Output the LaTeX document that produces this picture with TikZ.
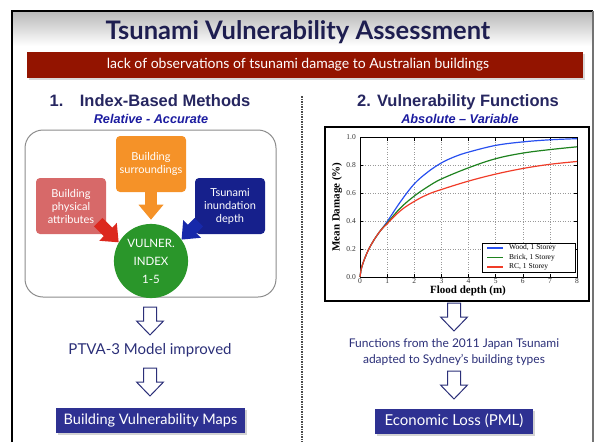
\documentclass[tikz,border=0pt]{standalone}
\usepackage{fontspec}
\setmainfont{Lato}
\newfontfamily\arialfont{Liberation Sans}
\newfontfamily\timesfont{Liberation Serif}
\usetikzlibrary{arrows.meta,calc,shadows}

\definecolor{slidenavy}{RGB}{30,30,80}
\definecolor{bannerred}{RGB}{147,20,0}
\definecolor{headnavy}{RGB}{38,38,96}
\definecolor{subblue}{RGB}{28,28,160}
\definecolor{boxnavy}{RGB}{46,49,146}
\definecolor{textnavy}{RGB}{43,47,120}
\definecolor{surrorange}{RGB}{245,146,40}
\definecolor{attrpink}{RGB}{215,105,105}
\definecolor{attrred}{RGB}{220,40,30}
\definecolor{depthblue}{RGB}{22,32,140}
\definecolor{arrowblue}{RGB}{22,40,170}
\definecolor{indexgreen}{RGB}{42,150,42}
\definecolor{woodblue}{RGB}{40,80,240}
\definecolor{brickgreen}{RGB}{30,130,30}
\definecolor{rcred}{RGB}{240,60,40}

\tikzset{
    factor/.style={rounded corners=4pt, text=white, align=center,
        font=\fontsize{11}{13}\selectfont, minimum width=70, minimum height=56, inner sep=2pt},
    block arrow/.style={line width=12pt, -{Triangle[length=15pt,width=24pt]}},
    hollow down/.style={draw=textnavy, line width=1pt, fill=white, line join=miter,
        insert path={++(-6.5,0) -- ++(0,14) -- ++(-7,0) -- ++(13.5,14) -- ++(13.5,-14) -- ++(-7,0) -- ++(0,-14) -- cycle}},
    result/.style={fill=boxnavy, text=white, inner sep=0pt, minimum height=25,
        drop shadow={shadow xshift=2pt, shadow yshift=-2pt, opacity=0.35}},
    note/.style={text=textnavy, align=center},
    griddot/.style={black!40, dotted, line width=0.5pt},
    ticklabel/.style={font=\timesfont\fontsize{7.5}{9}\selectfont, text=black!80, inner sep=1.5pt},
    plotline/.style={line width=1.2pt, line join=round},
}

\begin{document}
\begin{tikzpicture}[x=1pt,y=-1pt]
\useasboundingbox (0,0) rectangle (594,442);
% slide frame and title
\shade[top color=black!28, bottom color=white] (12,11) rectangle (593,46);
\draw[line width=1.5pt] (12,442) -- (12,11) -- (593,11);
\draw[line width=1.5pt, black!55] (593,11) -- (593,442);
\node[text=slidenavy, font=\bfseries\fontsize{25.5}{30}\selectfont] (title) at (298,32) {Tsunami Vulnerability Assessment};
\node[fill=bannerred, minimum width=556, minimum height=26,
      drop shadow={shadow xshift=2pt, shadow yshift=-2pt, opacity=0.3}] (gap) at (305,65) {};
\node[text=white, font=\fontsize{14}{16}\selectfont] (gaptext) at (298,65) {lack of observations of tsunami damage to Australian buildings};
\draw[dash pattern=on 1.5pt off 1pt, line width=1.2pt, black!70] (302,96) -- (302,442);

% left column
\node[text=headnavy, font=\arialfont\bfseries\fontsize{16.5}{20}\selectfont] (lefthead) at (150,101) {1.\quad Index-Based Methods};
\node[text=subblue, font=\arialfont\bfseries\itshape\fontsize{12.7}{14}\selectfont] (leftsub) at (151,119) {Relative - Accurate};
\node[draw=black!45, line width=1pt, rounded corners=18pt, minimum width=251, minimum height=167] (panel) at (150.5,213.5) {};
\node[factor, fill=surrorange] (surr) at (151,164) {Building\\surroundings};
\node[factor, fill=attrpink] (attr) at (71,206) {Building\\physical\\attributes};
\node[factor, fill=depthblue] (depth) at (230,206) {Tsunami\\inundation\\depth};
\node[circle, fill=indexgreen, minimum size=73, text=white, align=center,
      font=\fontsize{11.5}{18}\selectfont] (index) at (151,261) {VULNER.\\INDEX\\1-5};
\draw[block arrow, surrorange, shorten >=4pt] (surr) -- (index);
\draw[block arrow, attrred] ($(attr.south east)+(-8,-12)$) -- (index.150);
\draw[block arrow, arrowblue] ($(depth.south west)+(4,-12)$) -- (index.35);
\path (150,307) [hollow down];
\node[note, font=\fontsize{15}{17}\selectfont] (ptva) at (150,350) {PTVA-3 Model improved};
\path (150,368) [hollow down];
\node[result, minimum width=189, font=\fontsize{14.5}{16}\selectfont] (maps) at (150.5,420) {Building Vulnerability Maps};

% right column
\node[text=headnavy, font=\arialfont\bfseries\fontsize{16.5}{20}\selectfont] (righthead) at (458,102) {2. Vulnerability Functions};
\node[text=subblue, font=\arialfont\bfseries\itshape\fontsize{12.7}{14}\selectfont] (rightsub) at (460,119) {Absolute – Variable};
\draw[line width=1.3pt] (325,127) rectangle (589,301);
\begin{scope}[shift={(360,277)}, x=27.125pt, y=140pt]
    \foreach \i in {1,...,7} \draw[griddot] (\i,0) -- (\i,1);
    \foreach \j in {0.2,0.4,0.6,0.8} \draw[griddot] (0,\j) -- (8,\j);
    \foreach \i in {0,...,8} {
        \draw[line width=0.5pt] (\i,0) -- (\i,0.025) (\i,1) -- (\i,0.975);
        \node[ticklabel, below] (xt\i) at (\i,0) {\i};
    }
    \foreach \j in {0.0,0.2,0.4,0.6,0.8,1.0} {
        \draw[line width=0.5pt] (0,\j) -- (0.12,\j) (8,\j) -- (7.88,\j);
        \node[ticklabel, left, inner sep=4pt] (yt\j) at (0,\j) {\j};
    }
    \draw[line width=0.8pt] (0,0) rectangle (8,1);
    \draw[plotline, woodblue] plot[smooth, tension=0.6] coordinates {(0,0) (0.05,0.06) (0.15,0.12) (0.3,0.19) (0.5,0.26) (0.75,0.33) (1,0.395) (1.5,0.54) (2,0.665) (2.5,0.75) (3,0.815) (3.5,0.86) (4,0.892) (5,0.94) (6,0.965) (7,0.98) (8,0.988)};
    \draw[plotline, brickgreen] plot[smooth, tension=0.6] coordinates {(0,0) (0.05,0.06) (0.15,0.12) (0.3,0.19) (0.5,0.26) (0.75,0.33) (1,0.385) (1.5,0.495) (2,0.578) (2.5,0.645) (3,0.70) (4,0.78) (5,0.845) (6,0.885) (7,0.91) (8,0.93)};
    \draw[plotline, rcred] plot[smooth, tension=0.6] coordinates {(0,0) (0.05,0.06) (0.15,0.12) (0.3,0.19) (0.5,0.26) (0.75,0.33) (1,0.38) (1.5,0.475) (2,0.54) (2.5,0.59) (3,0.625) (4,0.685) (5,0.735) (6,0.775) (7,0.805) (8,0.825)};
\end{scope}
\draw[fill=white, line width=0.7pt] (482,243) rectangle (575,272);
\foreach \c/\t/\y [count=\k] in {woodblue/{Wood, 1 Storey}/248, brickgreen/{Brick, 1 Storey}/257.5, rcred/{RC, 1 Storey}/267} {
    \draw[plotline, \c] (487,\y) -- (503,\y);
    \node[right, inner sep=0pt, font=\timesfont\fontsize{7.5}{9}\selectfont] (leg\k) at (509,\y) {\t};
}
\node[rotate=90, font=\timesfont\bfseries\fontsize{11}{13}\selectfont] (ylab) at (337,207) {Mean Damage (\%)};
\node[font=\timesfont\bfseries\fontsize{11}{13}\selectfont] (xlab) at (468,291) {Flood depth (m)};
\path (454,303) [hollow down];
\node[note, font=\fontsize{12}{16}\selectfont] (japan) at (454,352) {Functions from the 2011 Japan Tsunami\\adapted to Sydney’s building types};
\path (454,371) [hollow down];
\node[result, minimum width=158, font=\fontsize{15}{17}\selectfont] (loss) at (454,421) {Economic Loss (PML)};
\end{tikzpicture}
\end{document}
